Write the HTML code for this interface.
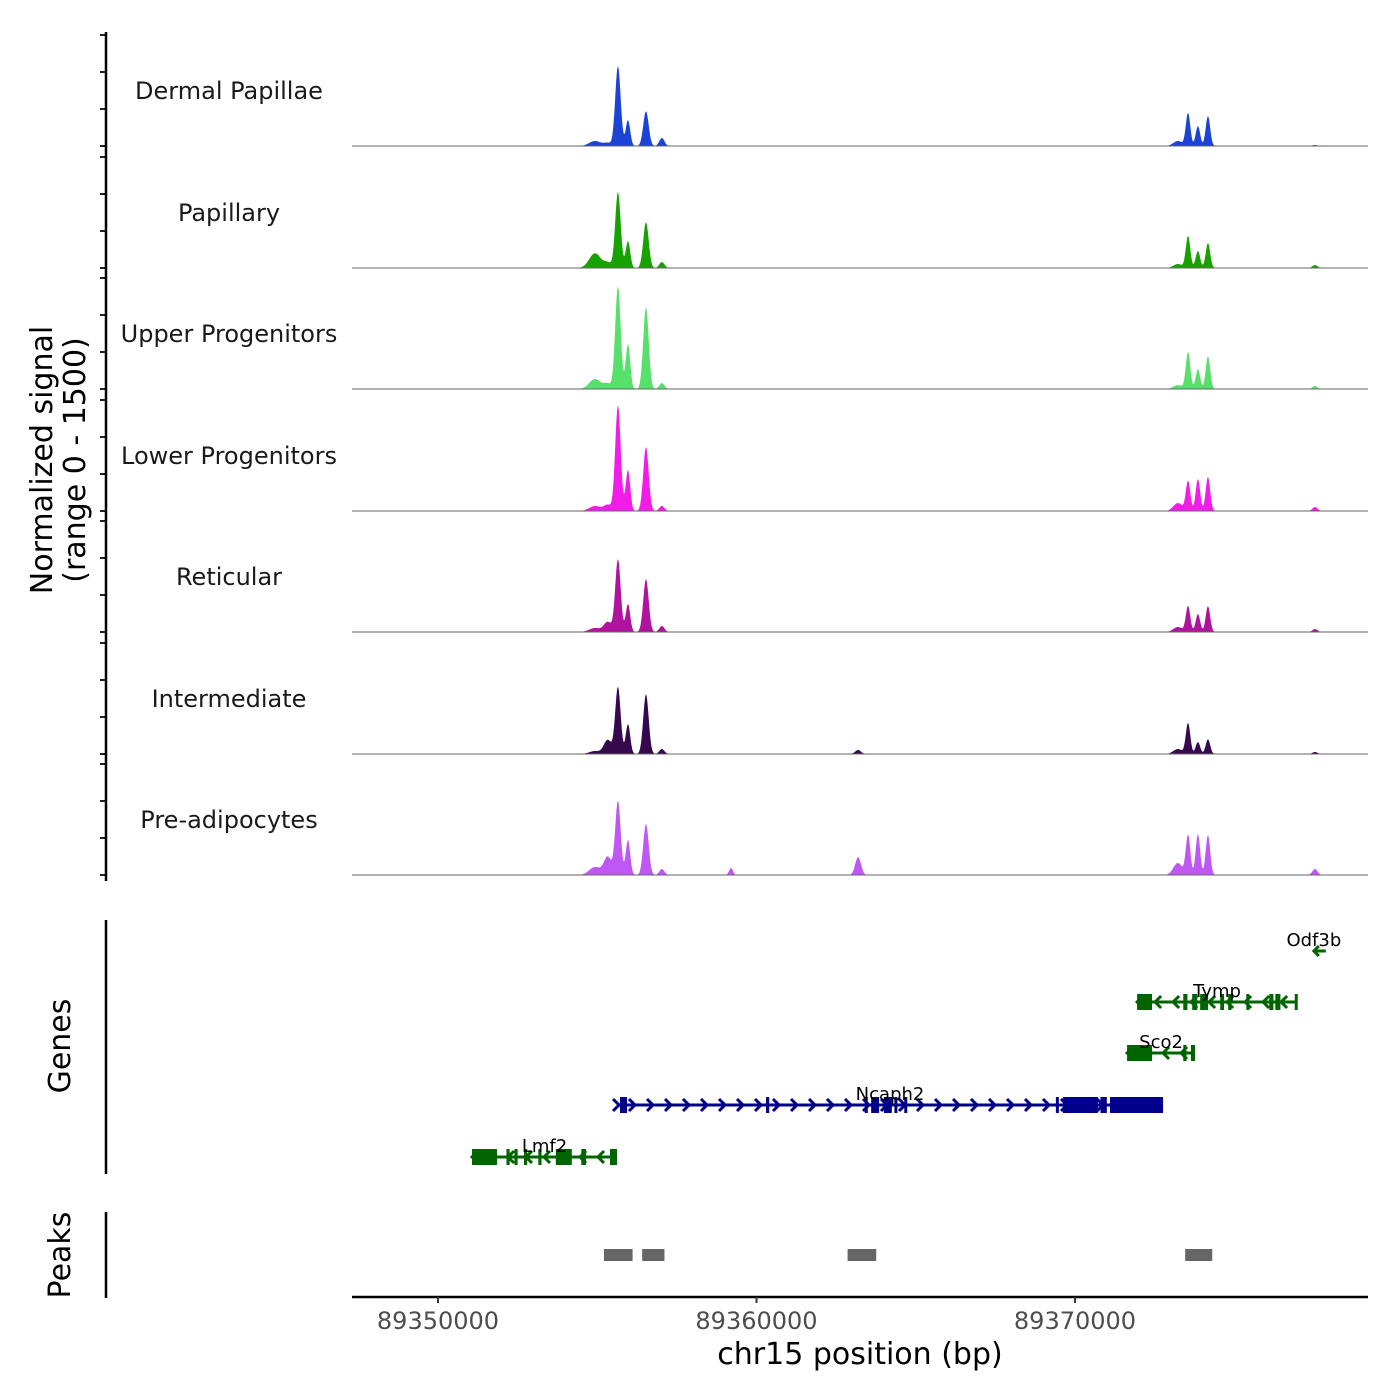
<!DOCTYPE html>
<html><head><meta charset="utf-8"><style>
html,body{margin:0;padding:0;background:#fff;}
svg{display:block;font-family:"DejaVu Sans","Liberation Sans",sans-serif;}
</style></head><body>
<svg id="chart" width="1400" height="1400" viewBox="0 0 1400 1400"></svg>
<script>
// ---- data ----
const trackNames = ["Dermal Papillae","Papillary","Upper Progenitors","Lower Progenitors","Reticular","Intermediate","Pre-adipocytes"];
const trackColors = ["#1B43D6","#16A300","#57E06A","#F21CE8","#B0149F","#36094F","#BF57F5"];
const peakPositions = [89354930,89355330,89355650,89355965,89356530,89357030,89359200,89363190,89373230,89373550,89373860,89374175,89377535];
const peakWidths =    [180,120,85,70,85,80,60,90,140,70,70,70,80];
const sigDermal =     [68,40,1080,350,470,108,0,0,68,445,270,405,14];
const sigPapillary =  [200,68,1026,365,620,81,0,0,54,432,230,338,40];
const sigUpper =      [135,68,1390,608,1107,81,0,0,54,500,270,445,40];
const sigLower =      [68,81,1430,553,864,68,0,0,108,405,432,460,54];
const sigReticular =  [54,135,985,378,715,81,0,0,68,350,243,350,40];
const sigInter =      [40,190,905,405,810,68,0,54,68,418,162,200,27];
const sigPre =        [108,243,1000,473,690,81,95,243,162,540,553,540,81];
const signals = [sigDermal,sigPapillary,sigUpper,sigLower,sigReticular,sigInter,sigPre];
const yTicks = [0,500,1000,1500];
const xTicks = [89350000,89360000,89370000];
const xTickLabels = ["89350000","89360000","89370000"];
const genes = [
 {name:"Lmf2",strand:-1,color:"#006400",row:4,start:89351068,end:89355620,
  exons:[[89351068,89351853],[89352150,89352250],[89352400,89352500],[89352700,89352800],[89353150,89353250],[89353700,89354200],[89354500,89354650],[89355400,89355620]]},
 {name:"Ncaph2",strand:1,color:"#00008B",row:3,start:89355620,end:89372765,
  exons:[[89355715,89355935],[89360300,89360400],[89363400,89363480],[89363600,89363850],[89364000,89364250],[89364330,89364400],[89364640,89364710],[89369400,89369480],[89369620,89370720],[89370800,89371000],[89371100,89372765]]},
 {name:"Sco2",strand:-1,color:"#006400",row:2,start:89371635,end:89373770,
  exons:[[89371635,89372420],[89373400,89373500],[89373640,89373770]]},
 {name:"Tymp",strand:-1,color:"#006400",row:1,start:89371950,end:89376973,
  exons:[[89371950,89372420],[89373400,89373530],[89373680,89373840],[89373930,89374180],[89374560,89374680],[89374810,89374910],[89375380,89375460],[89376100,89376230],[89376290,89376450],[89376900,89376973]]},
 {name:"Odf3b",strand:-1,color:"#006400",row:0,start:89377500,end:89377800,exons:[]}
];
const peakRegions = [[89355210,89356110],[89356410,89357110],[89362860,89363760],[89373460,89374310]];

// ---- scales ----
const X0=352,X1=1368,BP0=89347300,BP1=89379200;
function xs(bp){return X0+(bp-BP0)/(BP1-BP0)*(X1-X0);}
const baselines=[146,268,389,511,632,754,875];
const trackH=111;
function ys(i,v){return baselines[i]-v/1500*trackH;}
const svg=document.getElementById('chart');
const NS="http://www.w3.org/2000/svg";
function mk(tag,attrs,parent){const e=document.createElementNS(NS,tag);for(const k in attrs)e.setAttribute(k,attrs[k]);(parent||svg).appendChild(e);return e;}

// ---- tracks ----
signals.forEach((sig,i)=>{
  const g=mk('g',{});
  
  
  let d='M'+X0+','+baselines[i];
  for(let bp=BP0;bp<=89378000;bp+=25){
    let v=0;
    for(let k=0;k<peakPositions.length;k++){const z=(bp-peakPositions[k])/peakWidths[k];v+=sig[k]*Math.exp(-0.5*z*z);}
    d+=' L'+xs(bp).toFixed(2)+','+ys(i,v).toFixed(2);
  }
  d+=' L'+xs(89378000)+','+baselines[i]+' Z';
  const p=mk('path',{d:d,fill:trackColors[i],stroke:'none'},g);
  
  
  const bl=mk('line',{x1:X0,x2:X1,y1:baselines[i],y2:baselines[i],stroke:'#666','stroke-width':1},g);
  
  
  const t=mk('text',{x:229,y:baselines[i]-47,'text-anchor':'middle','font-size':24,fill:'#1a1a1a'},g);
  t.textContent=trackNames[i];
  
  
  yTicks.forEach(v=>{
    const tk=mk('line',{x1:100,x2:106,y1:ys(i,v),y2:ys(i,v),stroke:'#222','stroke-width':2},g);
    
    
  });
});
const ya=mk('line',{x1:106,x2:106,y1:32,y2:881,stroke:'#000','stroke-width':2.5});


const yt=mk('text',{transform:'translate(52,460) rotate(-90)','text-anchor':'middle','font-size':30,fill:'#000'});


yt.innerHTML='<tspan x="0" dy="0">Normalized signal</tspan><tspan x="0" dy="33">(range 0 - 1500)</tspan>';

// ---- genes ----
const rowY=[951,1002,1053,1105,1157];
function arrow(g,x,y,dir,color,sz){
  const a=mk('path',{d:`M${x-dir*sz},${y-sz} L${x},${y} L${x-dir*sz},${y+sz}`,fill:'none',stroke:color,'stroke-width':3},g);
  
  
}
genes.forEach(gn=>{
  const g=mk('g',{});
  
  
  const y=rowY[gn.row];
  if(gn.exons.length===0){
    const x=xs(gn.start);
    mk('line',{x1:x,x2:x+12,y1:y,y2:y,stroke:gn.color,'stroke-width':3},g);
    arrow(g,x,y,-1,gn.color,5);
  } else {
    const xa=xs(gn.start),xb=xs(gn.end);
    mk('line',{x1:xa,x2:xb,y1:y,y2:y,stroke:gn.color,'stroke-width':3},g);
    for(let x=xa+18;x<xb-6;x+=18) arrow(g,x,y,gn.strand,gn.color,6);
    arrow(g,gn.strand>0?xa+2:xa,y,gn.strand,gn.color,6);
    gn.exons.forEach(e=>{
      const r=mk('rect',{x:xs(e[0]),y:y-8,width:Math.max(3,xs(e[1])-xs(e[0])),height:16,fill:gn.color},g);
      
      
    });
  }
  const lx=gn.exons.length?(xs(gn.start)+xs(gn.end))/2:xs(gn.start);
  const t=mk('text',{x:lx,y:y-5,'text-anchor':'middle','font-size':18,fill:'#000'},g);
  t.textContent=gn.name;
  
  
});
const ga=mk('line',{x1:106,x2:106,y1:920,y2:1174,stroke:'#000','stroke-width':2.5});


const gt=mk('text',{transform:'translate(70,1046) rotate(-90)','text-anchor':'middle','font-size':30,fill:'#000'});
gt.textContent='Genes';



// ---- peaks ----
peakRegions.forEach(pk=>{
  const r=mk('rect',{x:xs(pk[0]),y:1249,width:xs(pk[1])-xs(pk[0]),height:12,fill:'#666'});
  
  
});
const pa=mk('line',{x1:106,x2:106,y1:1212,y2:1298,stroke:'#000','stroke-width':2.5});


const pt=mk('text',{transform:'translate(70,1255) rotate(-90)','text-anchor':'middle','font-size':30,fill:'#000'});
pt.textContent='Peaks';



// ---- x axis ----
const xa=mk('line',{x1:X0,x2:X1,y1:1297,y2:1297,stroke:'#000','stroke-width':2.5});


xTicks.forEach((bp,i)=>{
  const tk=mk('line',{x1:xs(bp),x2:xs(bp),y1:1297,y2:1303,stroke:'#333','stroke-width':2});
  
  
  const t=mk('text',{x:xs(bp),y:1329,'text-anchor':'middle','font-size':24,fill:'#4d4d4d'});
  t.textContent=xTickLabels[i];
  
  
});
const xt=mk('text',{x:860,y:1364,'text-anchor':'middle','font-size':30,fill:'#000'});
xt.textContent='chr15 position (bp)';


</script>
</body></html>
